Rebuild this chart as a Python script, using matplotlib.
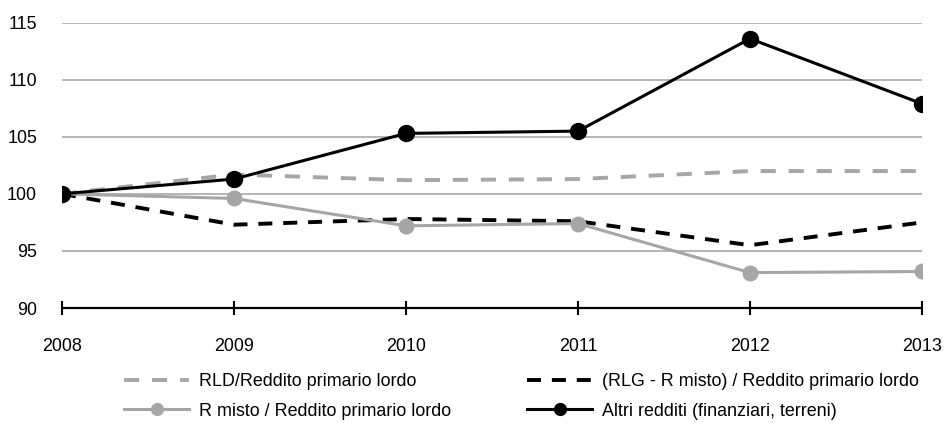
import matplotlib
matplotlib.use("Agg")
import matplotlib.pyplot as plt
from matplotlib import font_manager

names = {f.name for f in font_manager.fontManager.ttflist}
fam = next((n for n in ["Liberation Sans", "Arimo", "Roboto Condensed"] if n in names), "DejaVu Sans")
plt.rcParams["font.family"] = [fam, "DejaVu Sans"]
FS = 12.9

years = [2008, 2009, 2010, 2011, 2012, 2013]
rld = [100, 101.7, 101.2, 101.3, 102.0, 102.0]
rlg_misto = [100, 97.3, 97.8, 97.6, 95.5, 97.5]
r_misto = [100, 99.6, 97.2, 97.4, 93.1, 93.2]
altri = [100, 101.3, 105.3, 105.5, 113.6, 107.9]
yticks = [90, 95, 100, 105, 110, 115]

labels = ["RLD/Reddito primario lordo",
          "(RLG - R misto) / Reddito primario lordo",
          "R misto / Reddito primario lordo",
          "Altri redditi (finanziari, terreni)"]

gray = "#a6a6a6"
W, H = 944, 423
fig = plt.figure(figsize=(W/100, H/100), dpi=100)
L, R, T, B = 62, 922, 22.7, 308
ax = fig.add_axes([L/W, 1-B/H, (R-L)/W, (B-T)/H])

for y in yticks[1:]:
    ax.axhline(y, color="#a0a0a0", lw=1.1, zorder=0)

l1, = ax.plot(years, rld, color=gray, lw=2.8, dashes=(3.9, 3.3), zorder=2)
l2, = ax.plot(years, rlg_misto, color="black", lw=2.8, dashes=(3.6, 2.8), zorder=3)
l3, = ax.plot(years, r_misto, color=gray, lw=2.2, marker="o", ms=11.5, mew=0, zorder=4)
l4, = ax.plot(years, altri, color="black", lw=2.2, marker="o", ms=12.5, mew=0, zorder=5)

ax.set_xlim(2008, 2013)
ax.set_ylim(90, 115)
ax.set_yticks(yticks)
ax.set_xticks(years)
for s in ["left", "right", "top"]:
    ax.spines[s].set_visible(False)
ax.spines["bottom"].set_linewidth(1.6)
ax.spines["bottom"].set_capstyle("butt")
ax.tick_params(axis="y", length=0, pad=18, labelsize=FS)
ax.tick_params(axis="x", direction="inout", length=9.4, width=1.5, pad=17, labelsize=FS)
for lab in ax.get_xticklabels() + ax.get_yticklabels():
    lab.set_clip_on(False)

kw = dict(frameon=False, handlelength=3.65, handletextpad=0.55, labelspacing=0.68,
          borderpad=0, borderaxespad=0, fontsize=FS, loc="center left")
leg1 = fig.legend([l1, l3], [labels[0], labels[2]], bbox_to_anchor=(124/W, 1-396.5/H), **kw)
leg2 = fig.legend([l2, l4], [labels[1], labels[3]], bbox_to_anchor=(527/W, 1-396.5/H), **kw)
for leg in (leg1, leg2):
    for h in leg.legend_handles:
        h.set_markersize(9.5)

fig.savefig("out.png", dpi=100)
